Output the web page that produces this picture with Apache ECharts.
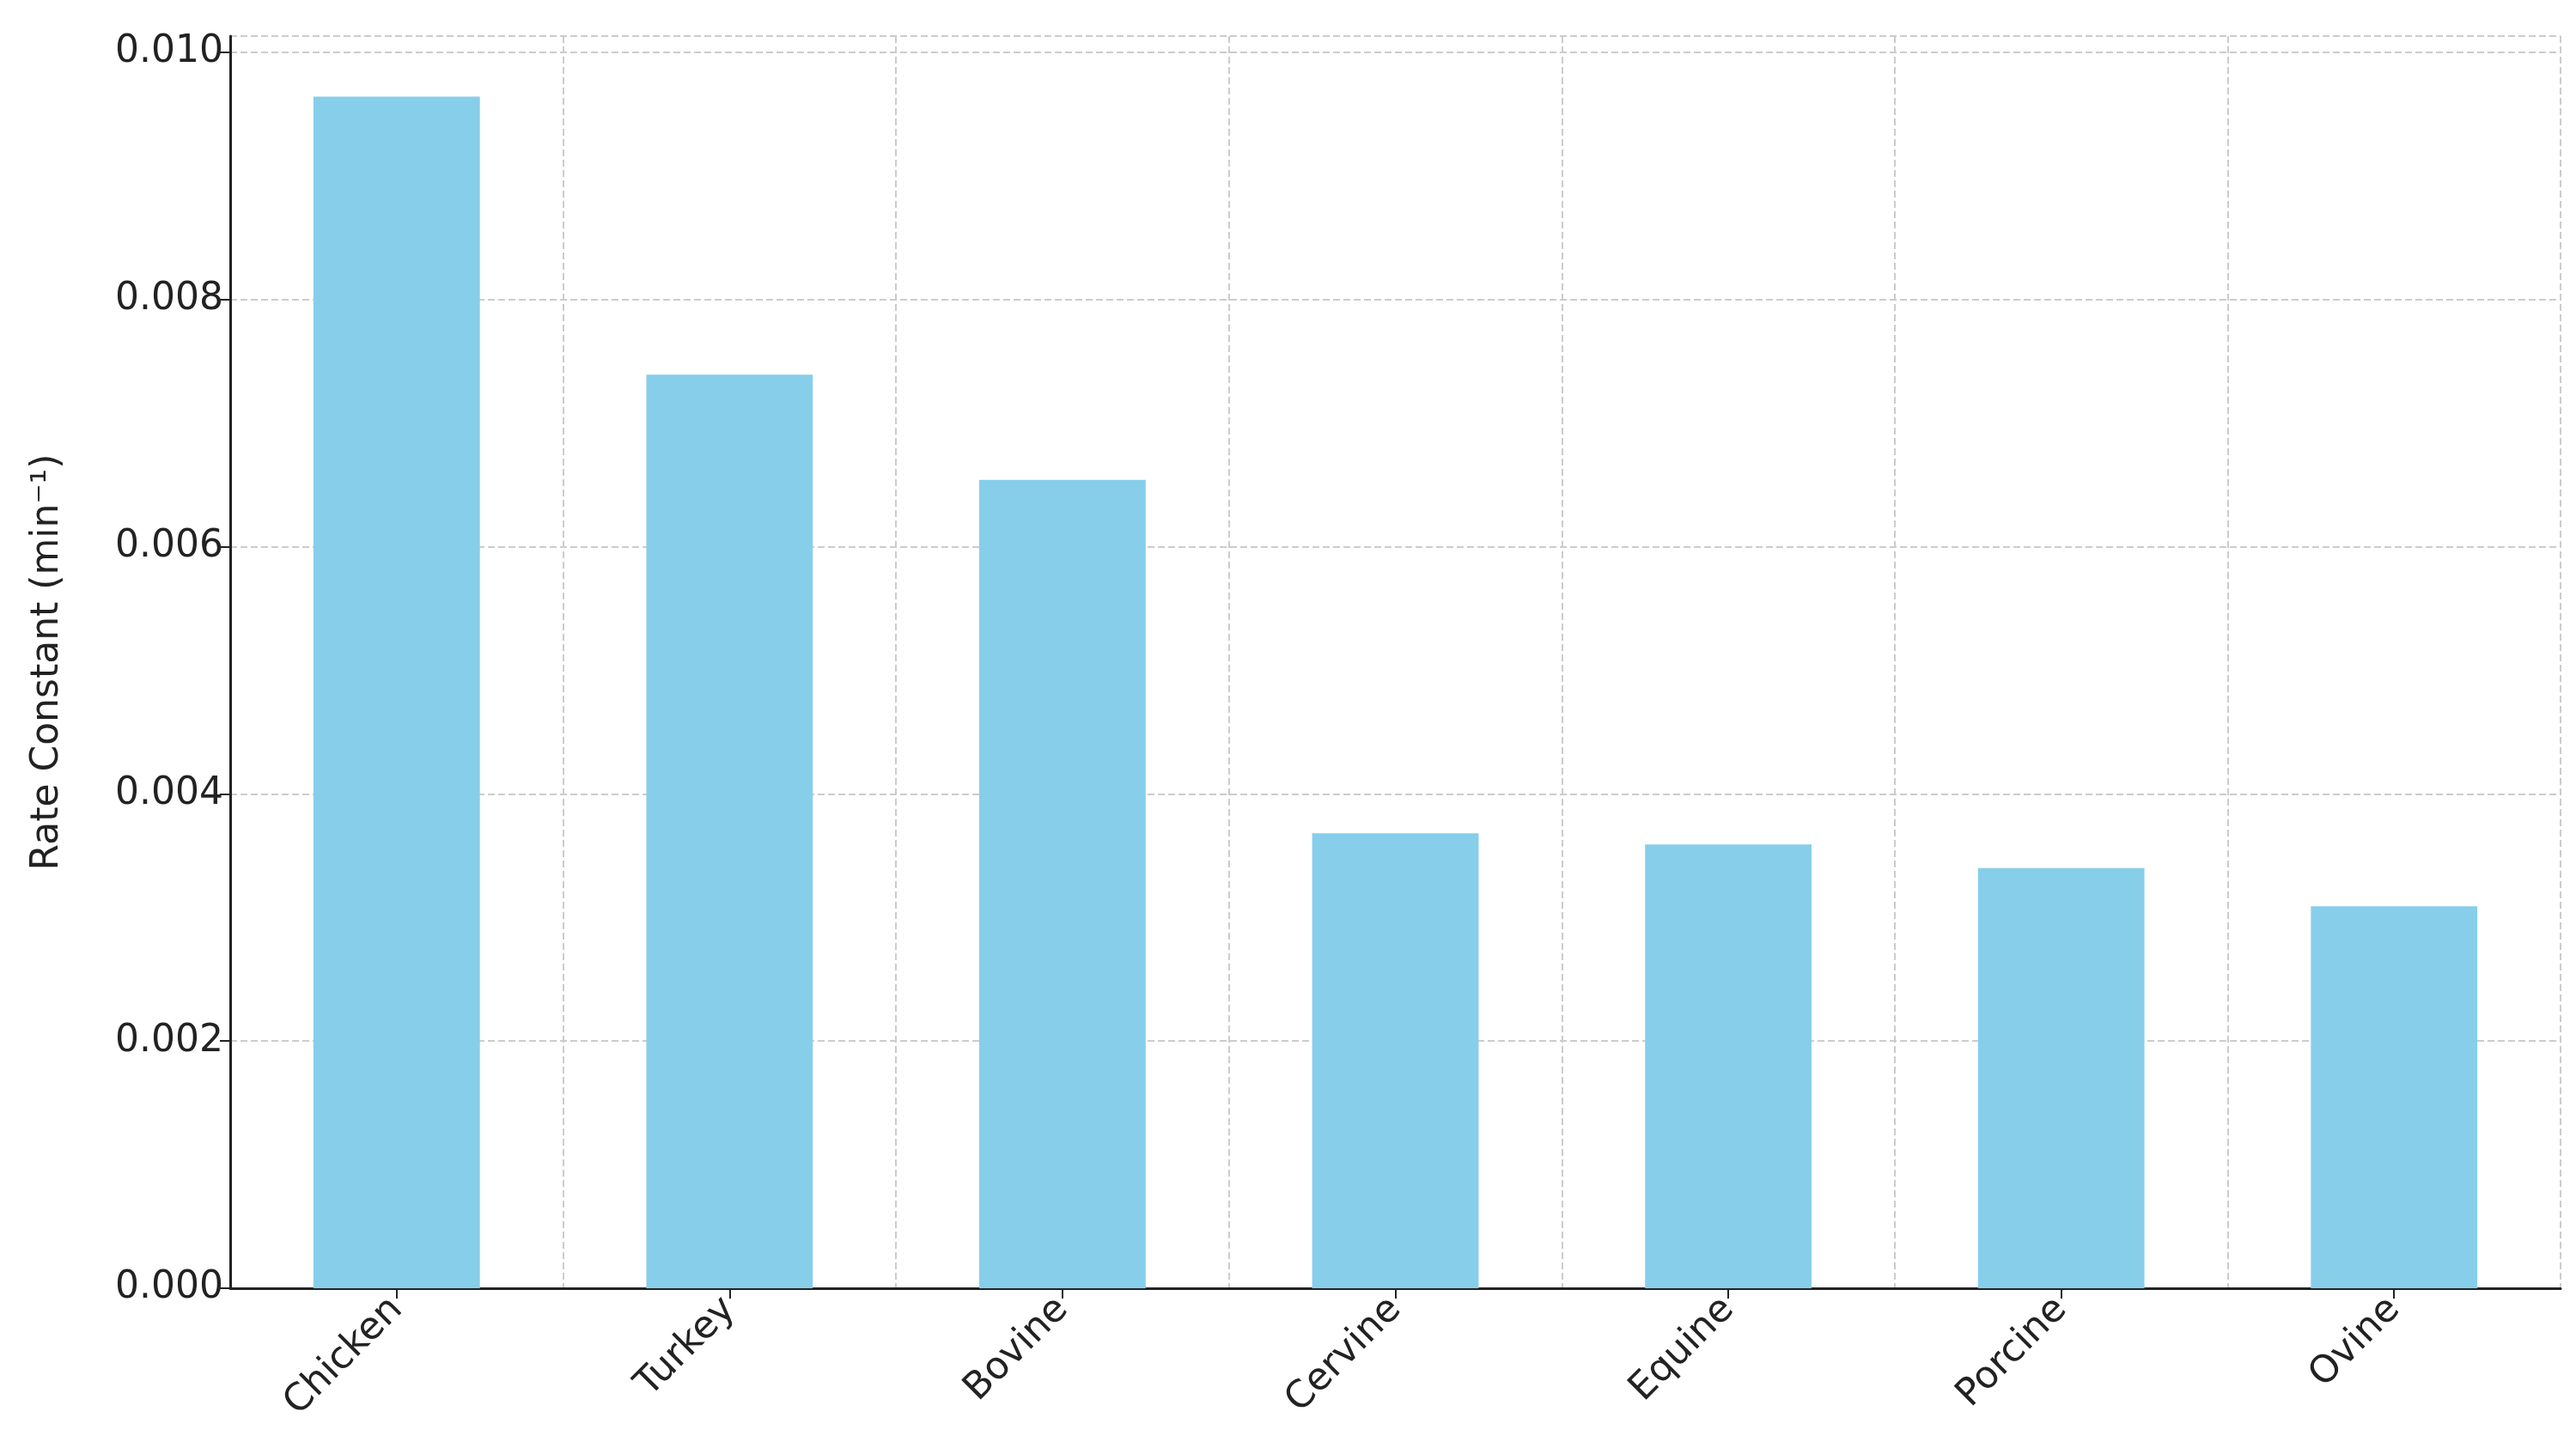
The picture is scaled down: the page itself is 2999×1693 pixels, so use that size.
<!DOCTYPE html>
<html><head><meta charset="utf-8">
<script src="https://cdn.jsdelivr.net/npm/echarts@6/dist/echarts.min.js"></script>
<style>html,body{margin:0;padding:0;background:#fff}#c{width:2999px;height:1693px}</style>
</head><body><div id="c"></div>
<script>
const categories = ["Chicken","Turkey","Bovine","Cervine","Equine","Porcine","Ovine"];
const rateConstants = [0.00964, 0.00739, 0.00654, 0.00368, 0.00359, 0.00340, 0.00309];
const yTicks = [0, 0.002, 0.004, 0.006, 0.008, 0.010];
const chart = echarts.init(document.getElementById('c'));
const grid = {type:'dashed', color:'#cccccc', width:2, dashOffset:0};
chart.setOption({
  animation:false,
  grid:{left:268, right:18, top:42, bottom:193},
  xAxis:{type:'category', data:categories,
    axisLine:{lineStyle:{color:'#222', width:3}},
    axisTick:{show:true, alignWithLabel:true, length:12, lineStyle:{color:'#222', width:2}},
    axisLabel:{rotate:45, fontSize:44, color:'#222', fontFamily:'DejaVu Sans', margin:18},
    splitLine:{show:true, lineStyle:grid}},
  yAxis:{type:'value', min:0, max:0.01013, interval:0.002,
    name:'Rate Constant (min\u207B\u00B9)', nameLocation:'middle', nameGap:190, nameRotate:90,
    nameTextStyle:{fontSize:44, color:'#222', fontFamily:'DejaVu Sans'},
    axisLine:{show:true, lineStyle:{color:'#222', width:3}},
    axisTick:{show:true, length:12, lineStyle:{color:'#222', width:2}},
    axisLabel:{fontSize:44, color:'#222', fontFamily:'DejaVu Sans', showMaxLabel:false,
      formatter:v=>yTicks.some(t=>Math.abs(t-v)<1e-9)?v.toFixed(3):''},
    splitLine:{show:true, lineStyle:grid}},
  series:[{type:'bar', data:rateConstants, barWidth:'50%', itemStyle:{color:'#87CEEB'}, z:1}]
});
</script></body></html>
